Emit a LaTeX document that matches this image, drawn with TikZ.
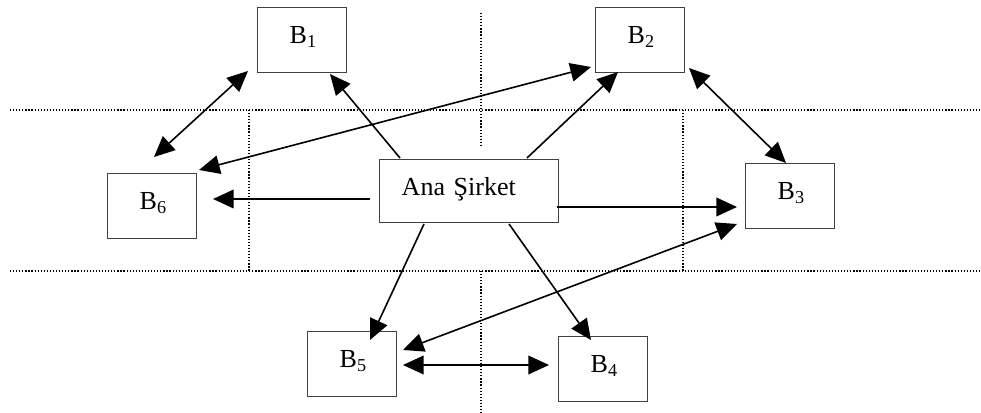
\documentclass[tikz,border=0pt]{standalone}
\usepackage{fontspec}
\setmainfont{Liberation Serif}
\usetikzlibrary{arrows.meta,calc}
\begin{document}
\begin{tikzpicture}[x=0.75pt,y=-0.75pt,
  >={Triangle[length=15.5pt,width=14pt]},
  conn/.style={line width=1.2pt,black},
  gridline/.style={line width=0.9pt,dash pattern=on 0.9pt off 1.4pt},
  box/.style={draw=black!75,line width=1.1pt,anchor=north west,inner ysep=0pt,align=left,text height=27pt,font=\fontsize{19.5}{23}\selectfont},
  bbox/.style={box,inner xsep=24pt,text width=18.75pt,text depth=21.75pt,minimum height=48.75pt},
  abox/.style={box,inner xsep=16.5pt,text width=101.25pt,text depth=20.25pt,minimum height=47.25pt}]
\useasboundingbox (0,0) rectangle (981,413);
% dotted guide lines
\draw[gridline] (10,110) -- (981,110);
\draw[gridline] (10,271) -- (981,271);
\draw[gridline] (481,13) -- (481,147);
\draw[gridline] (481,271) -- (481,413);
\draw[gridline] (249,110) -- (249,271);
\draw[gridline] (683,110) -- (683,271);
% boxes
\node[abox] (Ana) at (379,159) {Ana Şirket};
\node[bbox] (B1) at (257,7) {B\textsubscript{1}};
\node[bbox] (B2) at (595,7) {B\textsubscript{2}};
\node[bbox] (B3) at (745,163) {B\textsubscript{3}};
\node[bbox] (B4) at (558,336) {B\textsubscript{4}};
\node[bbox] (B5) at (307,331) {B\textsubscript{5}};
\node[bbox] (B6) at (107,173) {B\textsubscript{6}};
% connectors
\draw[conn,<->] ($(B1.north west)+(-9,64)$) -- ($(B6.north west)+(47,-16)$);
\draw[conn,->] ($(Ana.north west)+(21,-1)$) -- ($(B1.north west)+(73,67)$);
\draw[conn,<->] ($(B2.north west)+(-4,60)$) -- ($(B6.north west)+(92,-3)$);
\draw[conn,->] ($(Ana.north west)+(-9,40)$) -- ($(B6.north west)+(106,26)$);
\draw[conn,->] ($(Ana.north west)+(148,-1)$) -- ($(B2.north west)+(23,65)$);
\draw[conn,<->] ($(B2.north west)+(94,61)$) -- ($(B3.north west)+(41,0)$);
\draw[conn,->] ($(Ana.north west)+(178,48)$) -- ($(B3.north west)+(-8,44)$);
\draw[conn,->] ($(Ana.north west)+(45,65)$) -- ($(B5.north west)+(63,9)$);
\draw[conn,<->] ($(B3.north west)+(-8,61)$) -- ($(B5.north west)+(96,19)$);
\draw[conn,<->] ($(B5.north west)+(96,34)$) -- ($(B4.north west)+(-9,29)$);
\draw[conn,->] ($(Ana.north west)+(130,65)$) -- ($(B4.north west)+(33,4)$);
\end{tikzpicture}
\end{document}
